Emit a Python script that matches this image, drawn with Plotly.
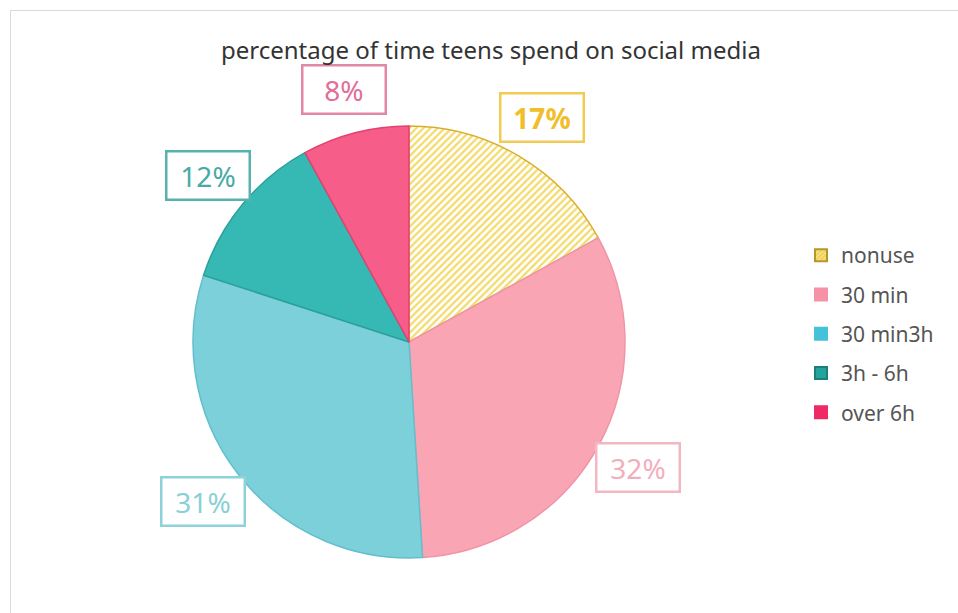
import math
import plotly.graph_objects as go

# ---- data ----
categories = ["nonuse", "30 min", "30 min3h", "3h - 6h", "over 6h"]
values = [17, 32, 31, 12, 8]
title_text = "percentage of time teens spend on social media"

# ---- styles ----
slice_colors = ["#FFFFFF", "#F9A5B4", "#7BD0DA", "#36B9B5", "#F75D89"]
slice_lines = ["#D9AE2C", "#F094A7", "#62BFCB", "#2C9F9B", "#E2426F"]
legend_colors = ["#F5DE70", "#F592A6", "#45C2DA", "#23A39C", "#EE2A66"]
legend_lines = ["#B8962A", "#F592A6", "#45C2DA", "#1B7F7A", "#EE2A66"]
label_text_colors = ["#F0BE2A", "#F3AEBD", "#8ACFD6", "#47AAA6", "#E06E99"]
label_border_colors = ["#F2CB55", "#F3B6C3", "#8ED2D9", "#55B2AE", "#E486A8"]

W, H = 958, 613
cx, cy, r = 409, 342, 216   # pie centre / radius in px
label_r = 261

fig = go.Figure()

fig.add_trace(go.Pie(
    labels=categories,
    values=values,
    sort=False,
    direction="clockwise",
    rotation=0,
    textinfo="none",
    hoverinfo="label+percent",
    showlegend=False,
    domain=dict(x=[(cx - r) / W, (cx + r) / W],
                y=[(H - cy - r) / H, (H - cy + r) / H]),
    marker=dict(
        colors=slice_colors,
        line=dict(color=slice_lines, width=1.5),
        pattern=dict(shape=["/", "", "", "", ""],
                     fgcolor=["#F3DB6A"] + slice_colors[1:],
                     bgcolor=["#FFFFFF"] + slice_colors[1:],
                     size=5, solidity=0.45),
    ),
))

# legend entries (dummy bars so the swatches can carry the hatch pattern)
for i, name in enumerate(categories):
    fig.add_trace(go.Bar(
        x=[None], y=[None], name=name, legendgroup=name,
        showlegend=True, hoverinfo="skip",
        marker=dict(color=legend_colors[i],
                    line=dict(color=legend_lines[i], width=2),
                    pattern=dict(shape="/", fgcolor="#D9B52E",
                                 bgcolor="#F7E27E", size=4,
                                 solidity=0.4) if i == 0 else None),
    ))

# boxed percentage labels placed outside each slice
total = sum(values)
cum = 0
annotations = []
for i, v in enumerate(values):
    mid = (cum + v / 2) / total * 2 * math.pi
    cum += v
    px = cx + label_r * math.sin(mid)
    py = cy - label_r * math.cos(mid)
    annotations.append(dict(
        x=px / W, y=1 - py / H, xref="paper", yref="paper",
        text=f"<b>{v}%</b>" if i == 0 else f"{v}%",
        showarrow=False,
        font=dict(size=28, color=label_text_colors[i], family="Noto Sans"),
        bordercolor=label_border_colors[i], borderwidth=2.5, borderpad=2,
        width=77, height=42,
        bgcolor="#FFFFFF",
        xanchor="center", yanchor="middle",
    ))

annotations.append(dict(
    x=491 / W, y=1 - 50 / H, xref="paper", yref="paper",
    text=title_text, showarrow=False,
    font=dict(size=24, color="#333333", family="Noto Sans"),
    xanchor="center", yanchor="middle",
))

fig.update_layout(
    width=W, height=H,
    margin=dict(l=0, r=0, t=0, b=0),
    paper_bgcolor="#FFFFFF", plot_bgcolor="#FFFFFF",
    xaxis=dict(visible=False), yaxis=dict(visible=False),
    annotations=annotations,
    legend=dict(x=801 / W, y=1 - 235 / H, xanchor="left", yanchor="top",
                font=dict(size=21, color="#555555", family="Noto Sans"),
                tracegroupgap=9, itemclick=False, itemdoubleclick=False,
                itemwidth=30, bgcolor="rgba(0,0,0,0)"),
    shapes=[
        dict(type="line", xref="paper", yref="paper",
             x0=10.5 / W, x1=1, y0=1 - 10.5 / H, y1=1 - 10.5 / H,
             line=dict(color="#DADADA", width=1), layer="below"),
        dict(type="line", xref="paper", yref="paper",
             x0=10.5 / W, x1=10.5 / W, y0=0, y1=1 - 10.5 / H,
             line=dict(color="#DADADA", width=1), layer="below"),
    ],
)

fig.write_html("out.html", config={"displayModeBar": False})

# remove the default page margin so the figure sits at the window origin
with open("out.html", "r", encoding="utf-8") as f:
    html = f.read()
html = html.replace("<head>", "<head><style>html,body{margin:0;padding:0;}</style>", 1)
with open("out.html", "w", encoding="utf-8") as f:
    f.write(html)
